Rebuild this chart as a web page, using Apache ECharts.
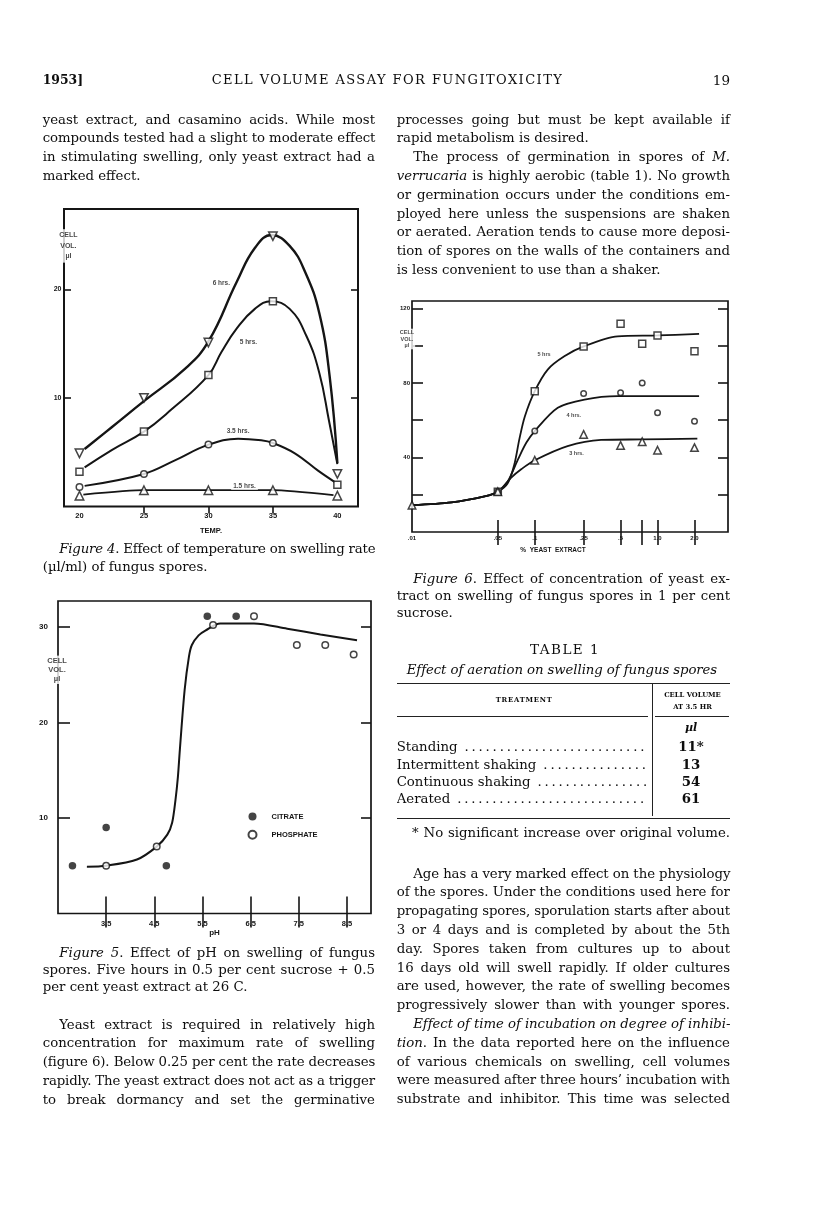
<!DOCTYPE html>
<html>
<head>
<meta charset="utf-8">
<script src="https://cdn.jsdelivr.net/npm/echarts@6/dist/echarts.min.js"></script>
<style>
  body { margin: 0; background: #fff; }
  #page { position: relative; width: 816px; height: 1217px; overflow: hidden; background: #fff; }
  #chart { position: absolute; left: 0; top: 0; width: 816px; height: 1217px; }
  .ln { position: absolute; white-space: nowrap; font-family: 'DejaVu Serif', serif; font-size: 13.3px; line-height: 18px; color: #0d0d0d; }
  .j { text-align: justify; text-align-last: justify; }
  .c { text-align: center; }
  .r { text-align: right; }
  .rule { position: absolute; background: #222; }
  .lead { overflow: hidden; }
</style>
</head>
<body>
<div id="page">
  <div id="chart"></div>
</div>
<script>
// ---- figure 4 : temperature ----
const fig4Temps = [20, 25, 30, 35, 40];
const fig4Hr6 = [4.9, 10.0, 15.1, 24.9, 3.0];
const fig4Hr5 = [3.2, 6.9, 12.1, 18.9, 2.0];
const fig4Hr35 = [1.8, 3.0, 5.7, 5.85, null];
const fig4Hr15 = [1.0, 1.5, 1.5, 1.5, 1.0];
// hand drawn curves
const fig4Hr6Curve = [[20.4, 5.3], [22.5, 7.3], [25, 9.7], [28.2, 12.7], [30, 15.2], [32.2, 20.7], [33.6, 23.8], [34.9, 25.0], [36.3, 24.0], [37.5, 21.6], [38.6, 17.8], [39.4, 12.0], [40.0, 4.0]];
const fig4Hr5Curve = [[20.4, 3.6], [22.5, 5.2], [25, 6.9], [27.1, 8.9], [30, 12.1], [31, 14.2], [32.2, 16.4], [33.6, 18.2], [34.85, 18.9], [36.3, 18.2], [37.6, 15.7], [38.6, 12.3], [39.35, 7.9], [40, 3.9]];
const fig4Hr35Curve = [[20.4, 1.9], [25, 3.0], [27.4, 4.25], [30, 5.7], [32.3, 6.25], [34.1, 6.1], [35, 5.85], [36.7, 4.9], [38.5, 3.3], [39.8, 2.25]];
const fig4Hr15Curve = [[20.3, 1.1], [25, 1.5], [30, 1.5], [35, 1.5], [39.7, 1.05]];
const fig4Ticks = [20, 25, 30, 35, 40];
const fig4YTicks = [10, 20];
const fig4NoteText = ['6 hrs.', '5 hrs.', '3.5 hrs.', '1.5 hrs.'];
const fig4NoteX = [31.0, 33.1, 32.3, 32.8];
const fig4NoteY = [20.6, 15.1, 6.9, 1.85];

// ---- figure 5 : pH ----
const citrateX = [2.8, 3.5, 4.75, 5.6, 6.2];
const citrateY = [5.0, 9.0, 5.0, 31.1, 31.1];
const phosphateX = [3.5, 4.55, 5.72, 6.57, 7.46, 8.05, 8.64];
const phosphateY = [5.0, 7.0, 30.2, 31.1, 28.1, 28.1, 27.1];
const fig5Curve = [[3.1, 4.9], [3.5, 5.0], [4.14, 5.65], [4.55, 7.0], [4.77, 8.25], [4.87, 9.5], [4.94, 11.9], [4.99, 14.3], [5.03, 17.1], [5.13, 23.4], [5.22, 26.9], [5.28, 28.1], [5.42, 29.1], [5.56, 29.6], [5.87, 30.35], [6.57, 30.35], [7.26, 29.8], [7.95, 29.2], [8.71, 28.6]];
const fig5Ticks = [3.5, 4.5, 5.5, 6.5, 7.5, 8.5];
const fig5YTicks = [10, 20, 30];

// ---- figure 6 : % yeast extract ----
const yeastConc = [0.1, 0.25, 0.5, 0.75, 1.0, 2.0];
const yeastHr5 = [75.6, 99.6, 111.8, 101, 105.5, 97];
const yeastHr4 = [54.2, 74.3, 74.7, 80, 64, 59.5];
const yeastHr3 = [38.5, 52.4, 46.5, 48.5, 43.9, 45.3];
const yeastLowConc = [0.01, 0.05];
const yeastLowVol = [14.4, 21.6];
const yeastHr5Curve = [[0.01, 14.4], [0.021, 15.9], [0.039, 19.1], [0.05, 21.6], [0.06, 26], [0.068, 36], [0.075, 50], [0.083, 62], [0.1, 75.6], [0.1275, 87.2], [0.174, 94.3], [0.25, 99.6], [0.473, 105], [1.0, 105.5], [2.18, 106.4]];
const yeastHr4Curve = [[0.01, 14.4], [0.021, 15.9], [0.039, 19.1], [0.05, 21.6], [0.06, 27], [0.073, 39], [0.0855, 48], [0.1, 54.2], [0.154, 66.7], [0.254, 71.1], [0.473, 72.9], [2.18, 72.9]];
const yeastHr3Curve = [[0.01, 14.4], [0.021, 15.9], [0.039, 19.1], [0.05, 21.6], [0.0643, 29.2], [0.078, 33.8], [0.1, 38.5], [0.185, 46.1], [0.347, 49.4], [0.75, 49.7], [2.11, 50.1]];
const fig6TickVals = [0.05, 0.1, 0.25, 0.5, 0.75, 1, 2];
const fig6LabelVals = [0.01, 0.05, 0.1, 0.25, 0.5, 1, 2];
const fig6LabelText = ['.01', '.05', '.1', '.25', '.5', '1.0', '2.0'];
const fig6YTicks = [20, 40, 60, 80, 100, 120];
const fig6YLabels = [40, 80, 120];
const fig6NoteText = ['5 hrs', '4 hrs.', '3 hrs.'];
const fig6NoteX = [0.119, 0.208, 0.219];
const fig6NoteY = [95.2, 62.7, 42.2];

// ---- table 1 ----
const treatments = ['Standing', 'Intermittent shaking', 'Continuous shaking', 'Aerated'];
const cellVolumes = ['11*', '13', '54', '61'];

const INK = '#151515';
const SANS = 'Liberation Sans, Arial, sans-serif';

function pairs(xs, ys) {
  return xs.map((x, i) => [x, ys[i]]).filter(p => p[1] != null);
}

function hollow(size, symbol, rotate) {
  return {
    symbol: symbol, symbolSize: size, symbolRotate: rotate || 0,
    itemStyle: { color: '#fff', borderColor: INK, borderWidth: 1.5 }
  };
}

function curve(idx, data, width, smooth) {
  return {
    type: 'line', xAxisIndex: idx, yAxisIndex: idx, data: data, smooth: smooth,
    showSymbol: false, symbol: 'none', silent: true, z: 2,
    lineStyle: { color: INK, width: width }
  };
}

function dots(idx, data, style, name) {
  return Object.assign({ type: 'scatter', name: name, xAxisIndex: idx, yAxisIndex: idx, data: data, z: 5, silent: true }, style);
}

function notes(idx, xs, ys, texts, size, extra) {
  return {
    type: 'scatter', xAxisIndex: idx, yAxisIndex: idx, symbolSize: 1, clip: false, silent: true, z: 10,
    itemStyle: { color: 'rgba(0,0,0,0)' },
    data: xs.map((x, i) => ({ value: [x, ys[i]], name: texts[i] })),
    label: Object.assign({
      show: true, position: 'inside', formatter: p => p.name,
      fontSize: size, fontWeight: 'bold', fontFamily: SANS, color: INK
    }, extra || {})
  };
}

// frame axes: bottom/top x, left/right y of one grid
function xPair(grid, type, min, max, bottom, top) {
  const base = { type: type, gridIndex: grid, min: min, max: max, splitLine: { show: false }, axisLine: { show: false } };
  if (type === 'log') base.logBase = 10;
  return [
    Object.assign({}, base, {
      position: 'bottom',
      axisTick: bottom.ticks ? { show: true, inside: true, length: bottom.len, customValues: bottom.ticks, lineStyle: { color: INK, width: 1.6 } } : { show: false },
      axisLabel: Object.assign({ show: true, customValues: bottom.labels, margin: bottom.margin, fontSize: bottom.size, fontWeight: 'bold', fontFamily: SANS, color: INK }, bottom.fmt ? { formatter: bottom.fmt } : {}),
      name: bottom.name, nameLocation: 'middle', nameGap: bottom.nameGap,
      nameTextStyle: { fontSize: bottom.nameSize, fontWeight: 'bold', fontFamily: SANS, color: INK, padding: bottom.namePad || 0 }
    }),
    Object.assign({}, base, {
      position: 'top',
      axisTick: { show: true, inside: true, length: top.len, customValues: top.ticks, lineStyle: { color: INK, width: 1.6 } },
      axisLabel: { show: false }
    })
  ];
}

function yPair(grid, min, max, left, right) {
  const base = { type: 'value', gridIndex: grid, min: min, max: max, splitLine: { show: false }, axisLine: { show: false } };
  return [
    Object.assign({}, base, {
      position: 'left',
      axisTick: { show: true, inside: true, length: left.len, customValues: left.ticks, lineStyle: { color: INK, width: 1.6 } },
      axisLabel: { show: true, customValues: left.labels, margin: left.margin, fontSize: left.size, fontWeight: 'bold', fontFamily: SANS, color: INK }
    }),
    Object.assign({}, base, {
      position: 'right',
      axisTick: { show: true, inside: true, length: right.len, customValues: right.ticks, lineStyle: { color: INK, width: 1.6 } },
      axisLabel: { show: false }
    })
  ];
}

const fig6Fmt = v => {
  const i = fig6LabelVals.findIndex(a => Math.abs(a - v) < 1e-9);
  return i < 0 ? '' : fig6LabelText[i];
};

const xAxes = [].concat(
  xPair(0, 'value', 18.8, 41.6,
    { labels: fig4Ticks, margin: 5, size: 7.5, name: 'TEMP.', nameGap: 20, nameSize: 7.5 },
    { ticks: [25, 30, 35], len: 7 }),
  xPair(1, 'value', 2.5, 9.0,
    { ticks: fig5Ticks, len: 17, labels: fig5Ticks, margin: 6, size: 7.5, name: 'pH', nameGap: 14, nameSize: 8, fmt: v => v.toFixed(1) },
    { ticks: fig5Ticks, len: 14 }),
  xPair(2, 'log', 0.01, 3.75,
    { ticks: fig6TickVals, len: 12, labels: fig6LabelVals, margin: 3.5, size: 6, fmt: fig6Fmt, name: '%  YEAST  EXTRACT', nameGap: 14.5, nameSize: 6.5, namePad: [0, 34, 0, 0] },
    { ticks: fig6TickVals, len: 13 })
);
// two x axes per grid: index 0,2,4 are the drawing axes
const yAxes = [].concat(
  yPair(0, 0, 27.4, { ticks: fig4YTicks, len: 7, labels: fig4YTicks, margin: 2.5, size: 7 }, { ticks: fig4YTicks, len: 7 }),
  yPair(1, 0, 32.7, { ticks: fig5YTicks, len: 12, labels: fig5YTicks, margin: 10, size: 8 }, { ticks: fig5YTicks, len: 10 }),
  yPair(2, 0, 124, { ticks: fig6YTicks, len: 11, labels: fig6YLabels, margin: 2, size: 6 }, { ticks: fig6YTicks, len: 10 })
);

const titleStyle = (size, lh) => ({ backgroundColor: '#fff', lineHeight: lh, align: 'center', padding: [1, 1] });

const series = [
  // figure 4
  curve(0, fig4Hr6Curve, 2.4, 0.45),
  curve(0, fig4Hr5Curve, 2.0, 0.45),
  curve(0, fig4Hr35Curve, 2.0, 0.4),
  curve(0, fig4Hr15Curve, 1.8, 0.2),
  dots(0, pairs(fig4Temps, fig4Hr6), hollow(8.5, 'triangle', 180)),
  dots(0, pairs(fig4Temps, fig4Hr5), hollow(7, 'rect')),
  dots(0, pairs(fig4Temps, fig4Hr35), hollow(6.5, 'circle')),
  dots(0, pairs(fig4Temps, fig4Hr15), hollow(8.5, 'triangle')),
  notes(0, fig4NoteX, fig4NoteY, fig4NoteText, 6.5, { backgroundColor: '#fff', padding: [0, 2] }),
  notes(0, [19.14], [24.0], ['CELL\nVOL.\nµl'], 7, titleStyle(7, 10.5)),
  // figure 5
  curve(2, fig5Curve, 2.0, 0.3),
  dots(2, pairs(citrateX, citrateY), { symbol: 'circle', symbolSize: 7.5, itemStyle: { color: INK } }, 'CITRATE'),
  dots(2, pairs(phosphateX, phosphateY), hollow(6.5, 'circle'), 'PHOSPHATE'),
  notes(2, [2.48], [25.5], ['CELL\nVOL.\nµl'], 7.5, titleStyle(7.5, 8.8)),
  // figure 6
  curve(4, yeastHr5Curve, 1.8, 0.3),
  curve(4, yeastHr4Curve, 1.8, 0.3),
  curve(4, yeastHr3Curve, 1.8, 0.3),
  dots(4, pairs(yeastConc, yeastHr5).concat([[yeastLowConc[1], yeastLowVol[1]]]), hollow(7, 'rect')),
  dots(4, pairs(yeastConc, yeastHr4).concat([[yeastLowConc[1], yeastLowVol[1]]]), hollow(5.5, 'circle')),
  dots(4, pairs(yeastConc, yeastHr3).concat(pairs(yeastLowConc, yeastLowVol)), hollow(7.5, 'triangle')),
  notes(4, fig6NoteX, fig6NoteY, fig6NoteText, 5.5),
  notes(4, [0.0091], [103.6], ['CELL\nVOL.\nµl'], 5.5, titleStyle(5.5, 6.2))
];

const chart = echarts.init(document.getElementById('chart'));
chart.setOption({
  animation: false,
  backgroundColor: 'transparent',
  grid: [
    { left: 64, top: 209, width: 294, height: 297.5, show: true, borderColor: INK, borderWidth: 2 },
    { left: 58, top: 601, width: 313, height: 312.5, show: true, borderColor: INK, borderWidth: 1.7 },
    { left: 412, top: 301, width: 316, height: 231, show: true, borderColor: INK, borderWidth: 1.7 }
  ],
  legend: {
    data: ['CITRATE', 'PHOSPHATE'], orient: 'vertical', left: 242.5, top: 807.5,
    itemWidth: 8, itemHeight: 8, itemGap: 9.3, icon: 'circle',
    textStyle: { fontSize: 7.5, fontWeight: 'bold', fontFamily: SANS, color: INK, padding: [0, 0, 0, 10] }
  },
  xAxis: xAxes,
  yAxis: yAxes,
  series: series
});

// ---- page text ----
const page = document.getElementById('page');
// mode: 'j' justify (squeezed if too long), 'fit' stretch letters to width, else plain
function put(x, y, w, html, cls, extra) {
  const d = document.createElement('div');
  d.className = 'ln' + (cls && cls !== 'fit' ? ' ' + cls : '');
  d.style.left = x + 'px';
  d.style.top = (y - 9.5) + 'px';
  if (w) d.style.width = w + 'px';
  d.innerHTML = '<span>' + html + '</span>';
  if (extra) Object.assign(d.style, extra);
  page.appendChild(d);
  if (w && (cls === 'j' || cls === 'fit')) {
    const span = d.firstChild;
    const n = d.textContent.length;
    const nat = span.getBoundingClientRect().width;
    if (cls === 'fit' || nat > w) d.style.letterSpacing = ((w - nat) / n) + 'px';
  }
  return d;
}
// lines: [html, flags] flags: j = justify, i = indent
function block(x, w, y0, dy, lines) {
  lines.forEach((l, k) => {
    const ind = l[1].indexOf('i') >= 0 ? 16.5 : 0;
    put(x + ind, y0 + k * dy, w - ind, l[0], l[1].indexOf('j') >= 0 ? 'j' : '');
  });
}
function rule(x, y, w, h) {
  const d = document.createElement('div');
  d.className = 'rule';
  Object.assign(d.style, { left: x + 'px', top: y + 'px', width: w + 'px', height: h + 'px' });
  page.appendChild(d);
}

const LX = 42.7, LW = 332.3, RX = 396.7, RW = 333.3;

// running head
put(LX, 80, 40, '1953]', '', { fontWeight: 'bold', fontSize: '12.4px' });
put(211.7, 80, 351.6, 'CELL VOLUME ASSAY FOR FUNGITOXICITY', 'fit', { fontSize: '13px' });
put(660, 80, 70, '19', 'r', { fontSize: '13.5px' });

block(LX, LW, 120, 18.8, [
  ['yeast extract, and casamino acids. While most', 'j'],
  ['compounds tested had a slight to moderate effect', 'j'],
  ['in stimulating swelling, only yeast extract had a', 'j'],
  ['marked effect.', '']
]);
block(LX, LW, 549, 18, [
  ['<i>Figure 4</i>. Effect of temperature on swelling rate', 'ij'],
  ['(µl/ml) of fungus spores.', '']
]);
block(LX, LW, 953.3, 17.2, [
  ['<i>Figure 5</i>. Effect of pH on swelling of fungus', 'ij'],
  ['spores. Five hours in 0.5 per cent sucrose + 0.5', 'j'],
  ['per cent yeast extract at 26 C.', '']
]);
block(LX, LW, 1025, 18.8, [
  ['Yeast extract is required in relatively high', 'ij'],
  ['concentration for maximum rate of swelling', 'j'],
  ['(figure 6). Below 0.25 per cent the rate decreases', 'j'],
  ['rapidly. The yeast extract does not act as a trigger', 'j'],
  ['to break dormancy and set the germinative', 'j']
]);
block(RX, RW, 120, 18.8, [
  ['processes going but must be kept available if', 'j'],
  ['rapid metabolism is desired.', ''],
  ['The process of germination in spores of <i>M.</i>', 'ij'],
  ['<i>verrucaria</i> is highly aerobic (table 1). No growth', 'j'],
  ['or germination occurs under the conditions em-', 'j'],
  ['ployed here unless the suspensions are shaken', 'j'],
  ['or aerated. Aeration tends to cause more deposi-', 'j'],
  ['tion of spores on the walls of the containers and', 'j'],
  ['is less convenient to use than a shaker.', '']
]);
block(RX, RW, 579.3, 17, [
  ['<i>Figure 6</i>. Effect of concentration of yeast ex-', 'ij'],
  ['tract on swelling of fungus spores in 1 per cent', 'j'],
  ['sucrose.', '']
]);
block(RX, RW, 874, 18.8, [
  ['Age has a very marked effect on the physiology', 'ij'],
  ['of the spores. Under the conditions used here for', 'j'],
  ['propagating spores, sporulation starts after about', 'j'],
  ['3 or 4 days and is completed by about the 5th', 'j'],
  ['day. Spores taken from cultures up to about', 'j'],
  ['16 days old will swell rapidly. If older cultures', 'j'],
  ['are used, however, the rate of swelling becomes', 'j'],
  ['progressively slower than with younger spores.', 'j'],
  ['<i>Effect of time of incubation on degree of inhibi-</i>', 'ij'],
  ['<i>tion</i>. In the data reported here on the influence', 'j'],
  ['of various chemicals on swelling, cell volumes', 'j'],
  ['were measured after three hours’ incubation with', 'j'],
  ['substrate and inhibitor. This time was selected', 'j']
]);

// table 1
put(530, 649.3, 70, 'TABLE 1', 'fit', { fontSize: '13.5px' });
put(406.7, 670, 310, '<i>Effect of aeration on swelling of fungus spores</i>', 'fit');
rule(RX, 682.5, RW, 1.8);
rule(652, 684, 1.3, 132);
rule(RX, 716, 251.5, 1.3);
rule(655, 716, 74, 1.3);
put(RX, 700, 255, 'TREATMENT', 'c', { fontSize: '6.8px', fontWeight: 'bold', letterSpacing: '0.8px' });
put(655, 695, 75, 'CELL VOLUME', 'c', { fontSize: '6.8px', fontWeight: 'bold' });
put(655, 707, 75, 'AT 3.5 HR', 'c', { fontSize: '6.8px', fontWeight: 'bold' });
put(655, 728, 72, '<i>µl</i>', 'c', { fontWeight: 'bold', fontSize: '11px' });
const leaders = ' ' + '.'.repeat(60);
treatments.forEach((t, i) => {
  const y = 747.7 + i * 17.4;
  put(RX, y, 251, t + '<span style="letter-spacing:2.8px">' + leaders + '</span>', 'lead');
  put(655, y, 72, cellVolumes[i], 'c', { fontWeight: 'bold' });
});
rule(RX, 817.5, RW, 1.8);
put(412, 833.3, 318, '* No significant increase over original volume.', 'j');
</script>
</body>
</html>
